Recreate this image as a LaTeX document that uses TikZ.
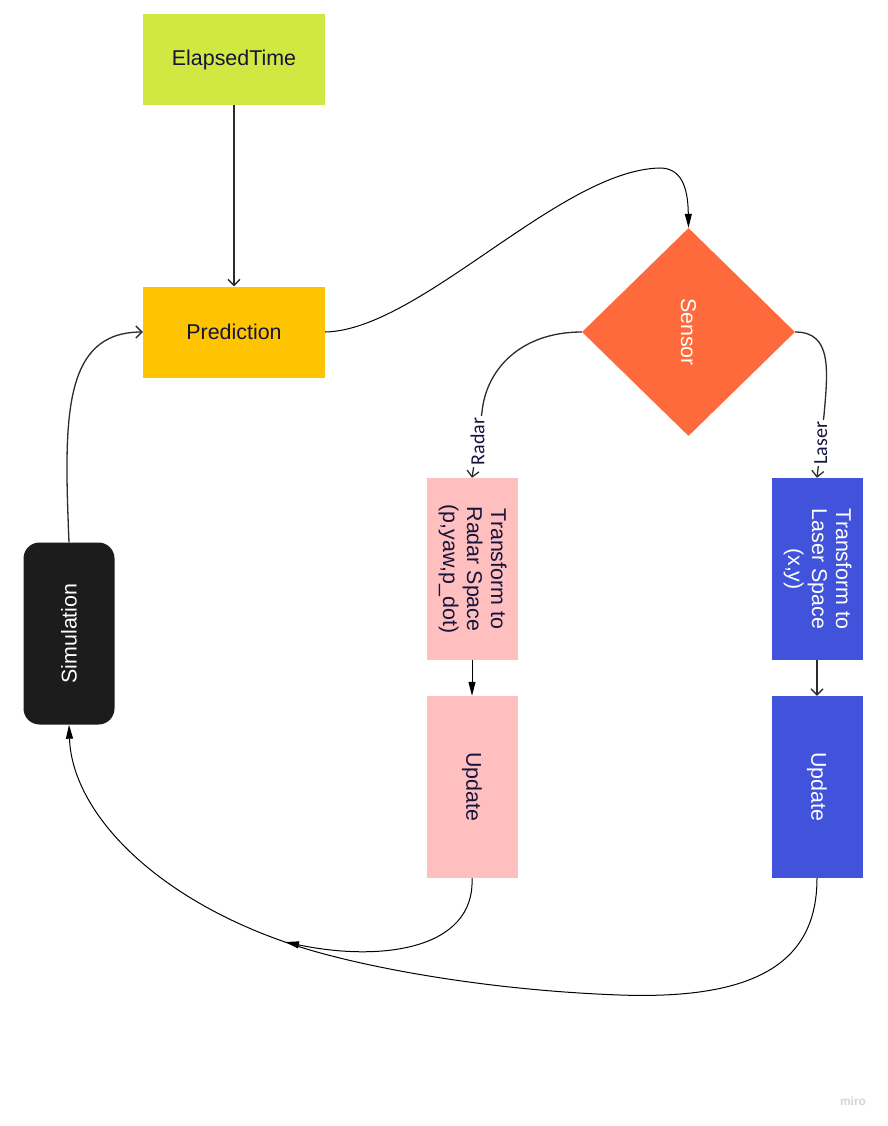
\documentclass[tikz,border=0pt]{standalone}
\usepackage{fontspec}
\usepackage{graphicx}
\setmainfont{Liberation Sans}
\newfontfamily\lblfont{Carlito}
\usetikzlibrary{arrows.meta,shapes.geometric}
\definecolor{limec}{HTML}{D0E841}
\definecolor{amberc}{HTML}{FFC400}
\definecolor{orangec}{HTML}{FF6A3D}
\definecolor{pinkc}{HTML}{FFBFBF}
\definecolor{bluec}{HTML}{4153DB}
\definecolor{darkc}{HTML}{1C1C1C}
\definecolor{navyc}{HTML}{14143C}
\definecolor{linec}{HTML}{2B2B2B}
\definecolor{miroc}{HTML}{D4D4D8}
\begin{document}
\begin{tikzpicture}[x=1pt,y=-1pt,
  box/.style={rectangle, draw=none, inner sep=0pt, text=navyc,
    font=\fontsize{21.4}{24}\selectfont, align=center},
  hbox/.style={box, minimum width=182pt, minimum height=91pt},
  vbox/.style={box, minimum width=91pt, minimum height=182pt},
  conn/.style={draw=linec, line width=1.3pt},
  openarrow/.style={conn, -{Straight Barb[length=6pt,width=12pt,line width=1.3pt]}},
  fillarrow/.style={draw=black, line width=1pt, -{Triangle[length=14pt,width=7pt]}},
  edgelabel/.style={fill=white, inner sep=1.5pt, text=navyc, rotate=90,
    font=\lblfont\fontsize{20}{22}\selectfont}
]
\useasboundingbox[fill=white] (0,0) rectangle (887,1126);

% nodes
\node[hbox, fill=limec] (et) at (234,59.5) {ElapsedTime};
\node[hbox, fill=amberc] (pred) at (234,332) {Prediction};
\node[diamond, fill=orangec, inner sep=0pt, minimum width=213pt, minimum height=208pt,
  text=white, font=\fontsize{21.4}{24}\selectfont] (sensor) at (688.5,332) {\rotatebox{-90}{Sensor}};
\node[vbox, fill=pinkc] (rt) at (472,569)
  {\rotatebox{-90}{\begin{tabular}{@{}c@{}}Transform to\\Radar Space\\(p,yaw,p\_dot)\end{tabular}}};
\node[vbox, fill=pinkc] (ru) at (472,787) {\rotatebox{-90}{Update}};
\node[vbox, fill=bluec, text=white] (lt) at (817,569)
  {\rotatebox{-90}{\begin{tabular}{@{}c@{}}Transform to\\Laser Space\\(x,y)\end{tabular}}};
\node[vbox, fill=bluec, text=white] (lu) at (817,787) {\rotatebox{-90}{Update}};
\node[vbox, fill=darkc, text=white, rounded corners=16pt] (sim) at (69,633.5) {\rotatebox{90}{Simulation}};
\node[text=miroc, font=\bfseries\fontsize{12}{14}\selectfont] (miro) at (853,1101) {miro};

\coordinate (merge) at (285,942);

% connectors
\draw[openarrow] (et.south) -- (pred.north);
\draw[fillarrow] (pred.east) .. controls (420,330) and (560,170) .. (660,168)
  .. controls (685,168) and (688,195) .. (sensor.north);
\draw[openarrow] (sensor.west) .. controls (520,332) and (486,370) .. (482,412)
  -- node[edgelabel, pos=0.45] {Radar} (rt.north);
\draw[openarrow] (sensor.east) .. controls (832,332) and (828,370) .. (824,415)
  -- node[edgelabel, pos=0.45] {Laser} (lt.north);
\draw[fillarrow] (rt.south) -- (ru.north);
\draw[openarrow] (lt.south) -- (lu.north);
\draw[fillarrow] (ru.south) .. controls (475,950) and (380,962) .. (merge);
\draw[fillarrow] (lu.south) .. controls (817,960) and (760,1000) .. (620,995)
  .. controls (480,990) and (350,965) .. (merge)
  .. controls (150,895) and (72,810) .. (sim.south);
\draw[openarrow] (sim.north) .. controls (64,420) and (62,332) .. (pred.west);
\end{tikzpicture}
\end{document}
